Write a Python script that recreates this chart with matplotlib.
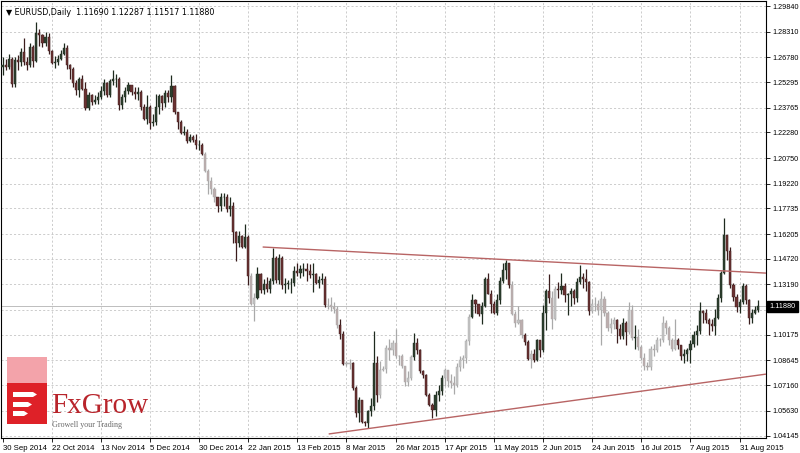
import matplotlib.pyplot as plt
import numpy as np
from matplotlib.patches import Polygon, Rectangle

# daily EURUSD bars, index 0 = 30 Sep 2014
first_open = 1.2620
closes = [
    1.2631, 1.2622, 1.2670, 1.2515, 1.2660, 1.2650, 1.2710, 1.2650, 1.2630, 1.2740, 1.2655, 1.2820, 1.2810, 1.2760, 1.2800, 1.2715,
    1.2645, 1.2650, 1.2670, 1.2700, 1.2735, 1.2630, 1.2610, 1.2525, 1.2480, 1.2550, 1.2490, 1.2375, 1.2450, 1.2410, 1.2425, 1.2440,
    1.2475, 1.2525, 1.2450, 1.2535, 1.2545, 1.2545, 1.2390, 1.2440, 1.2475, 1.2510, 1.2470, 1.2455, 1.2470, 1.2380, 1.2310, 1.2380,
    1.2285, 1.2290, 1.2380, 1.2445, 1.2405, 1.2465, 1.2440, 1.2505, 1.2350, 1.2290, 1.2225, 1.2230, 1.2175, 1.2200, 1.2185, 1.2150,
    1.2155, 1.2100, 1.2000, 1.1935, 1.1890, 1.1840, 1.1790, 1.1840, 1.1840, 1.1770, 1.1790, 1.1630, 1.1565, 1.1610, 1.1545, 1.1605,
    1.1370, 1.1205, 1.1240, 1.1380, 1.1285, 1.1320, 1.1290, 1.1340, 1.1480, 1.1345, 1.1480, 1.1315, 1.1320, 1.1325, 1.1330, 1.1400,
    1.1385, 1.1410, 1.1410, 1.1400, 1.1375, 1.1380, 1.1330, 1.1345, 1.1350, 1.1195, 1.1195, 1.1185, 1.1175, 1.1075, 1.1025, 1.0845,
    1.0845, 1.0850, 1.0700, 1.0550, 1.0630, 1.0495, 1.0490, 1.0565, 1.0595, 1.0850, 1.0660, 1.0810, 1.0815, 1.0940, 1.0925, 1.0970,
    1.0890, 1.0890, 1.0830, 1.0735, 1.0760, 1.0885, 1.0970, 1.0925, 1.0800, 1.0780, 1.0660, 1.0600, 1.0570, 1.0660, 1.0685, 1.0760,
    1.0805, 1.0740, 1.0730, 1.0720, 1.0825, 1.0870, 1.0880, 1.0980, 1.1125, 1.1225, 1.1200, 1.1145, 1.1190, 1.1350, 1.1265, 1.1200,
    1.1150, 1.1225, 1.1340, 1.1405, 1.1445, 1.1315, 1.1145, 1.1090, 1.1105, 1.1015, 1.0975, 1.0875, 1.0905, 1.0870, 1.0985, 1.0925,
    1.1150, 1.1280, 1.1240, 1.1110, 1.1290, 1.1285, 1.1310, 1.1255, 1.1260, 1.1280, 1.1240, 1.1335, 1.1365, 1.1350, 1.1335, 1.1160,
    1.1200, 1.1205, 1.1165, 1.1235, 1.1150, 1.1060, 1.1085, 1.1105, 1.1055, 1.1010, 1.1090, 1.1035, 1.1165, 1.1000, 1.1005, 1.0945,
    1.0880, 1.0830, 1.0825, 1.0935, 1.0930, 1.0985, 1.0985, 1.1090, 1.1060, 1.0985, 1.0935, 1.0985, 1.0955, 1.0890, 1.0905, 1.0925,
    1.0965, 1.1015, 1.1040, 1.1160, 1.1150, 1.1105, 1.1080, 1.1070, 1.1120, 1.1240, 1.1385, 1.1615, 1.1520, 1.1315, 1.1245, 1.1185,
    1.1215, 1.1310, 1.1225, 1.1120, 1.1150, 1.1169, 1.1188,
]
highs = [
    1.2680, 1.2670, 1.2700, 1.2680, 1.2680, 1.2690, 1.2730, 1.2790, 1.2680, 1.2760, 1.2750, 1.2887, 1.2845, 1.2815, 1.2830, 1.2820,
    1.2720, 1.2685, 1.2690, 1.2720, 1.2765, 1.2750, 1.2640, 1.2620, 1.2540, 1.2560, 1.2570, 1.2530, 1.2470, 1.2460, 1.2450, 1.2470,
    1.2505, 1.2545, 1.2530, 1.2545, 1.2600, 1.2575, 1.2560, 1.2460, 1.2500, 1.2530, 1.2510, 1.2500, 1.2500, 1.2480, 1.2400, 1.2450,
    1.2390, 1.2340, 1.2455, 1.2460, 1.2450, 1.2480, 1.2480, 1.2570, 1.2510, 1.2350, 1.2300, 1.2265, 1.2250, 1.2220, 1.2215, 1.2220,
    1.2185, 1.2165, 1.2110, 1.2010, 1.1960, 1.1900, 1.1840, 1.1865, 1.1865, 1.1860, 1.1845, 1.1810, 1.1640, 1.1640, 1.1615, 1.1680,
    1.1615, 1.1390, 1.1270, 1.1425, 1.1390, 1.1350, 1.1365, 1.1360, 1.1535, 1.1490, 1.1500, 1.1490, 1.1355, 1.1345, 1.1360, 1.1430,
    1.1450, 1.1435, 1.1450, 1.1445, 1.1440, 1.1450, 1.1390, 1.1370, 1.1390, 1.1370, 1.1240, 1.1245, 1.1215, 1.1190, 1.1110, 1.1040,
    1.0860, 1.0875, 1.0855, 1.0710, 1.0645, 1.0630, 1.0500, 1.0570, 1.0640, 1.1043, 1.0890, 1.0860, 1.0830, 1.0960, 1.0990, 1.0985,
    1.1050, 1.0900, 1.0905, 1.0830, 1.0800, 1.0900, 1.1030, 1.1000, 1.0935, 1.0810, 1.0785, 1.0670, 1.0610, 1.0680, 1.0720, 1.0780,
    1.0820, 1.0810, 1.0785, 1.0770, 1.0850, 1.0890, 1.0900, 1.0990, 1.1140, 1.1265, 1.1235, 1.1200, 1.1215, 1.1365, 1.1390, 1.1285,
    1.1220, 1.1260, 1.1365, 1.1445, 1.1465, 1.1450, 1.1340, 1.1160, 1.1190, 1.1115, 1.1030, 1.0985, 1.0925, 1.0935, 1.0990, 1.0985,
    1.1195, 1.1290, 1.1380, 1.1280, 1.1310, 1.1335, 1.1385, 1.1330, 1.1270, 1.1300, 1.1290, 1.1355, 1.1435, 1.1390, 1.1410, 1.1340,
    1.1230, 1.1245, 1.1225, 1.1280, 1.1250, 1.1160, 1.1120, 1.1125, 1.1110, 1.1085, 1.1120, 1.1100, 1.1215, 1.1195, 1.1075, 1.1055,
    1.0955, 1.0910, 1.0855, 1.0950, 1.0965, 1.1005, 1.1000, 1.1130, 1.1105, 1.1070, 1.1000, 1.1115, 1.1000, 1.0960, 1.0935, 1.0940,
    1.0985, 1.1040, 1.1075, 1.1215, 1.1165, 1.1175, 1.1120, 1.1115, 1.1175, 1.1260, 1.1400, 1.1715, 1.1615, 1.1545, 1.1325, 1.1260,
    1.1235, 1.1330, 1.1320, 1.1235, 1.1170, 1.1190, 1.12287,
]
lows = [
    1.2570, 1.2600, 1.2610, 1.2500, 1.2500, 1.2600, 1.2625, 1.2630, 1.2600, 1.2620, 1.2620, 1.2650, 1.2745, 1.2740, 1.2745, 1.2700,
    1.2635, 1.2615, 1.2630, 1.2660, 1.2690, 1.2610, 1.2545, 1.2500, 1.2450, 1.2440, 1.2480, 1.2360, 1.2360, 1.2390, 1.2400, 1.2400,
    1.2430, 1.2450, 1.2440, 1.2440, 1.2510, 1.2500, 1.2360, 1.2370, 1.2410, 1.2460, 1.2450, 1.2430, 1.2420, 1.2360, 1.2300, 1.2280,
    1.2247, 1.2265, 1.2270, 1.2340, 1.2365, 1.2380, 1.2410, 1.2410, 1.2340, 1.2250, 1.2220, 1.2215, 1.2165, 1.2170, 1.2170, 1.2130,
    1.2125, 1.2095, 1.1990, 1.1860, 1.1860, 1.1810, 1.1755, 1.1760, 1.1790, 1.1755, 1.1730, 1.1565, 1.1460, 1.1545, 1.1540, 1.1535,
    1.1315, 1.1195, 1.1098, 1.1230, 1.1270, 1.1260, 1.1275, 1.1270, 1.1320, 1.1330, 1.1320, 1.1290, 1.1270, 1.1290, 1.1270, 1.1310,
    1.1370, 1.1355, 1.1370, 1.1340, 1.1360, 1.1275, 1.1320, 1.1300, 1.1320, 1.1185, 1.1175, 1.1160, 1.1150, 1.1060, 1.0990, 1.0840,
    1.0830, 1.0815, 1.0690, 1.0525, 1.0495, 1.0488, 1.0470, 1.0458, 1.0530, 1.0570, 1.0615, 1.0640, 1.0800, 1.0790, 1.0870, 1.0900,
    1.0880, 1.0840, 1.0820, 1.0710, 1.0710, 1.0750, 1.0870, 1.0905, 1.0790, 1.0760, 1.0650, 1.0590, 1.0520, 1.0535, 1.0620, 1.0660,
    1.0710, 1.0705, 1.0700, 1.0665, 1.0705, 1.0800, 1.0820, 1.0850, 1.0960, 1.1120, 1.1150, 1.1130, 1.1085, 1.1185, 1.1260, 1.1150,
    1.1140, 1.1135, 1.1205, 1.1325, 1.1350, 1.1300, 1.1135, 1.1065, 1.1080, 1.1000, 1.0960, 1.0865, 1.0820, 1.0855, 1.0860, 1.0885,
    1.0915, 1.1045, 1.1210, 1.1050, 1.1105, 1.1240, 1.1260, 1.1215, 1.1135, 1.1190, 1.1200, 1.1215, 1.1320, 1.1300, 1.1280, 1.1135,
    1.1150, 1.1160, 1.1135, 1.0955, 1.1130, 1.1040, 1.1030, 1.1050, 1.0970, 1.0990, 1.0990, 1.0960, 1.1025, 1.0985, 1.0935, 1.0930,
    1.0865, 1.0810, 1.0805, 1.0810, 1.0890, 1.0915, 1.0950, 1.0975, 1.1020, 1.0960, 1.0920, 1.0925, 1.0935, 1.0870, 1.0850, 1.0860,
    1.0850, 1.0945, 1.0960, 1.1025, 1.1090, 1.1090, 1.1015, 1.1040, 1.1015, 1.1115, 1.1215, 1.1380, 1.1465, 1.1300, 1.1220, 1.1155,
    1.1150, 1.1200, 1.1200, 1.1085, 1.1090, 1.1140, 1.11517,
]
# bars that appear washed out (grey) in the screenshot
faded_ranges = [(66, 69), (81, 82), (106, 109), (112, 113), (123, 133), (144, 152),
                (166, 169), (172, 172), (179, 180), (192, 199), (204, 205), (207, 219)]

date_labels = ["30 Sep 2014", "22 Oct 2014", "13 Nov 2014", "5 Dec 2014", "30 Dec 2014",
               "22 Jan 2015", "13 Feb 2015", "8 Mar 2015", "26 Mar 2015", "17 Apr 2015",
               "11 May 2015", "2 Jun 2015", "24 Jun 2015", "16 Jul 2015", "7 Aug 2015",
               "31 Aug 2015"]
bars_per_label = 16
price_ticks = [1.29840, 1.28310, 1.26780, 1.25295, 1.23765, 1.22280, 1.20750, 1.19220,
               1.17735, 1.16205, 1.14720, 1.13190, 1.11660, 1.10175, 1.08645, 1.07160,
               1.05630, 1.04145]
last_price = 1.11880
title_text = "\u25bc EURUSD,Daily  1.11690 1.12287 1.11517 1.11880"

# trend lines as (bar index, price) end points
upper_trend = [(84.7, 1.1543), (248.6, 1.1387)]
lower_trend = [(106.2, 1.0425), (248.6, 1.0783)]

FONT = ["Liberation Sans", "DejaVu Sans"]
plt.rcParams["font.family"] = FONT

closes = np.array(closes)
highs = np.array(highs)
lows = np.array(lows)
opens = np.concatenate([[first_open], closes[:-1]])
idx = np.arange(len(closes))
faded = np.zeros(len(closes), dtype=bool)
for a, b in faded_ranges:
    faded[a:b + 1] = True
bull = closes >= opens

W, H = 800, 453
fig = plt.figure(figsize=(W / 100, H / 100), dpi=100)
left, right, top, bottom = 1, 766, 1, 438
ax = fig.add_axes([left / W, 1 - bottom / H, (right - left) / W, (bottom - top) / H])
ax.set_xlim(-0.5, 248.6)
ax.set_ylim(1.0401, 1.3014)

grid_kw = dict(color="#c4c4c4", lw=0.6, ls=(0, (2.5, 2.5)), zorder=0)
for p in price_ticks:
    ax.axhline(p, **grid_kw)
xticks = np.arange(len(date_labels)) * bars_per_label
for x in xticks[1:]:
    ax.axvline(x, **grid_kw)

ax.axhline(last_price, color="#bdbdbd", lw=0.7, zorder=1)

wick_col = np.where(faded, "#a9a9a9", np.where(bull, "#1e2a1e", "#3a1c1c"))
body_col = np.where(faded, np.where(bull, "#c4c4c4", "#bcaeae"),
                    np.where(bull, "#2c3f2e", "#6a3232"))
top_w = np.maximum(highs, np.maximum(opens, closes))
bot_w = np.minimum(lows, np.minimum(opens, closes))
ax.vlines(idx, bot_w, top_w, colors=wick_col, lw=0.9, zorder=2)
body_lo = np.minimum(opens, closes)
body_h = np.maximum(np.abs(closes - opens), 0.00035)
ax.bar(idx, body_h, bottom=body_lo, width=0.7, color=body_col,
       edgecolor=wick_col, linewidth=0.3, zorder=3)

trend_col = "#b86464"
for line in (upper_trend, lower_trend):
    xs, ys = zip(*line)
    ax.plot(xs, ys, color=trend_col, lw=1.0, zorder=4, solid_capstyle="butt")

ax.yaxis.tick_right()
ax.set_yticks(price_ticks)
ax.set_yticklabels([f"{p:.5f}" if p != 1.11660 else "" for p in price_ticks])
ax.set_xticks(xticks)
ax.set_xticklabels(date_labels)
for lab in ax.get_xticklabels():
    lab.set_horizontalalignment("left")
ax.tick_params(axis="y", length=3, width=0.6, labelsize=5.2, pad=1.5, colors="black")
ax.tick_params(axis="x", length=3, width=0.6, labelsize=5.6, pad=2, colors="black")
for s in ax.spines.values():
    s.set_linewidth(0.8)
    s.set_color("black")

ax.annotate(f"{last_price:.5f}", xy=(1.0, last_price), xycoords=("axes fraction", "data"),
            xytext=(2.5, 0), textcoords="offset points", ha="left", va="center",
            fontsize=5.2, color="white",
            bbox=dict(boxstyle="square,pad=0.3", fc="black", ec="black"), zorder=6)

ax.text(0.006, 0.985, title_text, transform=ax.transAxes, fontsize=5.8,
        va="top", ha="left", family=["DejaVu Sans"], color="black")

# FxGrow logo, drawn in pixel coordinates on an overlay
ov = fig.add_axes([0, 0, 1, 1], zorder=10)
ov.set_xlim(0, W)
ov.set_ylim(H, 0)
ov.axis("off")
ov.patch.set_alpha(0)
ov.add_patch(Rectangle((7, 357), 40, 26, fc="#f3a3aa", ec="none"))
ov.add_patch(Rectangle((7, 383), 40, 41, fc="#de2128", ec="none"))
for y0, x1 in ((392, 37), (402, 32), (411, 28)):
    ov.add_patch(Polygon([(13, y0), (x1 - 4, y0), (x1, y0 + 2.5), (x1 - 4, y0 + 5), (13, y0 + 5)],
                         closed=True, fc="white", ec="none"))
ov.text(51, 413, "FxGrow", family=["Liberation Serif", "DejaVu Serif"], fontsize=21,
        color="#b8242b", va="baseline", ha="left")
ov.text(52, 427, "Growell your Trading", family=["Liberation Serif", "DejaVu Serif"],
        fontsize=5.8, color="#6a6a6a", va="baseline", ha="left")

fig.savefig("out.png", dpi=100, facecolor="white")
